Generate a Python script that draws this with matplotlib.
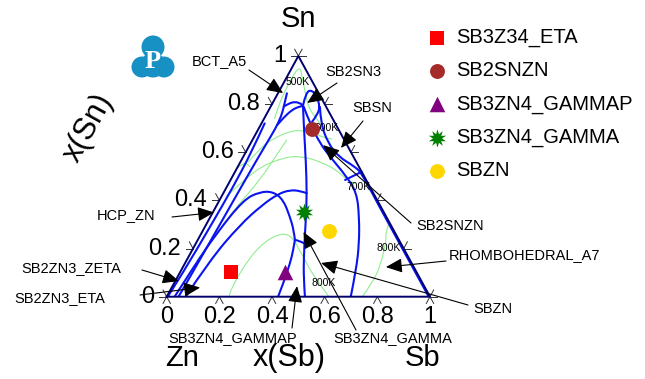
import numpy as np
import matplotlib
matplotlib.use("Agg")
import matplotlib.pyplot as plt
from matplotlib.path import Path
from matplotlib.patches import PathPatch, Circle

plt.rcParams['font.family'] = ['Liberation Sans', 'DejaVu Sans']

W, H = 645, 379

# univariant lines of the liquidus projection, as x(Sb), x(Sn)
line_a_sb = [0.004, 0.012, 0.02, 0.024, 0.022, 0.012]
line_a_sn = [0.0, 0.1, 0.3, 0.45, 0.6, 0.72]
line_b_sb = [0.045, 0.048, 0.052, 0.056, 0.06, 0.064, 0.06, 0.05, 0.034]
line_b_sn = [0.0, 0.1, 0.3, 0.5, 0.62, 0.7, 0.75, 0.79, 0.845]
lower_arc_sb = [0.063, 0.072, 0.088, 0.106, 0.118]
lower_arc_sn = [0.714, 0.745, 0.776, 0.789, 0.792]
dome1_sb = [0.05, 0.062, 0.083, 0.106, 0.12]
dome1_sn = [0.79, 0.803, 0.81, 0.803, 0.796]
pocket_sb = [0.12, 0.104, 0.122, 0.156, 0.188, 0.194, 0.189]
pocket_sn = [0.796, 0.85, 0.859, 0.83, 0.788, 0.755, 0.726]
central_sb = [0.12, 0.175, 0.252, 0.317, 0.363, 0.40, 0.438, 0.48, 0.525]
central_sn = [0.795, 0.693, 0.554, 0.43, 0.332, 0.249, 0.166, 0.08, 0.0]
right_sb = [0.125, 0.184, 0.264, 0.329, 0.434, 0.507, 0.565, 0.62, 0.664, 0.699]
right_sn = [0.79, 0.72, 0.637, 0.582, 0.499, 0.43, 0.332, 0.222, 0.111, 0.0]
near_edge_sb = [0.188, 0.225, 0.295, 0.361, 0.445, 0.485, 0.60, 0.75, 0.99]
near_edge_sn = [0.788, 0.72, 0.637, 0.582, 0.54, 0.512, 0.395, 0.245, 0.005]
tie_sb = [0.435, 0.481]
tie_sn = [0.485, 0.519]
dome2_sb = [0.03, 0.041, 0.058, 0.09, 0.136, 0.187, 0.242, 0.302, 0.344, 0.369]
dome2_sn = [0.0, 0.132, 0.263, 0.402, 0.436, 0.436, 0.402, 0.332, 0.277, 0.236]
link_sb = [0.369, 0.39, 0.41]
link_sn = [0.236, 0.232, 0.222]
gammap_sb = [0.369, 0.385, 0.399, 0.415, 0.423]
gammap_sn = [0.236, 0.19, 0.139, 0.056, 0.0]
dome3_sb = [0.072, 0.088, 0.129, 0.172, 0.21, 0.246, 0.286, 0.317]
dome3_sn = [0.0, 0.152, 0.298, 0.381, 0.427, 0.443, 0.44, 0.43]

# liquidus isotherms
iso_top_sb = [0.04, 0.025, 0.02, 0.025, 0.058, 0.104, 0.15, 0.2, 0.237]
iso_top_sn = [0.74, 0.8, 0.9, 0.96, 0.913, 0.845, 0.78, 0.74, 0.706]
iso_600_sb = [0.03, 0.046, 0.076, 0.135, 0.19, 0.24, 0.27, 0.30]
iso_600_sn = [0.56, 0.617, 0.658, 0.693, 0.686, 0.672, 0.66, 0.655]
iso_bump_sb = [0.0, 0.014, 0.03, 0.046]
iso_bump_sn = [0.535, 0.554, 0.553, 0.54]
iso_chan_sb = [0.04, 0.06, 0.079, 0.112, 0.125, 0.13]
iso_chan_sn = [0.15, 0.27, 0.374, 0.485, 0.609, 0.65]
iso_700_sb = [0.02, 0.038, 0.084, 0.165, 0.228, 0.302, 0.383, 0.442, 0.48]
iso_700_sn = [0.42, 0.457, 0.54, 0.582, 0.582, 0.561, 0.526, 0.485, 0.47]
iso_800a_sb = [0.237, 0.226, 0.233, 0.262, 0.31, 0.36, 0.40, 0.436, 0.48, 0.535, 0.616]
iso_800a_sn = [0.0, 0.03, 0.166, 0.236, 0.266, 0.243, 0.2, 0.166, 0.12, 0.069, 0.0]
iso_800b_sb = [0.69, 0.70, 0.717, 0.748, 0.752, 0.743]
iso_800b_sn = [0.31, 0.26, 0.236, 0.125, 0.06, 0.0]

iso_labels = ['500K', '600K', '700K', '800K', '800K']
iso_label_sb = [0.05, 0.257, 0.501, 0.742, 0.566]
iso_label_sn = [0.893, 0.702, 0.455, 0.201, 0.058]

# compound compositions
phase_names = ['SB3Z34_ETA', 'SB2SNZN', 'SB3ZN4_GAMMAP', 'SB3ZN4_GAMMA', 'SBZN']
phase_sb = [0.193, 0.202, 0.398, 0.347, 0.481]
phase_sn = [0.102, 0.697, 0.102, 0.352, 0.271]
phase_colors = ['#ff0000', '#a52a2a', '#800080', '#008000', '#ffd700']
phase_markers = ['s', 'o', '^', (10, 1, 0), 'o']
phase_sizes = [115, 115, 125, 170, 115]

# phase field labels and the composition their arrow points at
field_names = ['BCT_A5', 'SB2SN3', 'SBSN', 'SB2SNZN', 'HCP_ZN', 'SB2ZN3_ZETA',
               'SB2ZN3_ETA', 'RHOMBOHEDRAL_A7', 'SBZN', 'SB3ZN4_GAMMAP', 'SB3ZN4_GAMMA']
field_sb = [0.019, 0.131, 0.353, 0.279, 0.005, 0.014, 0.108, 0.771, 0.516, 0.473, 0.385]
field_sn = [0.846, 0.805, 0.618, 0.630, 0.35, 0.065, 0.038, 0.123, 0.14, 0.044, 0.269]

ticks = [0, 0.2, 0.4, 0.6, 0.8, 1]
tick_labels = ['0', '0.2', '0.4', '0.6', '0.8', '1']


def fp(px, py):
    return px / W, 1 - py / H


def to_xy(sb, sn):
    sb = np.asarray(sb, float)
    sn = np.asarray(sn, float)
    return sb + sn / 2, sn


def curve(ax, sb, sn, **kw):
    x, y = to_xy(sb, sn)
    pts = np.column_stack([x, y])
    verts, codes = [pts[0]], [Path.MOVETO]
    if len(pts) == 2:
        verts.append(pts[1])
        codes.append(Path.LINETO)
    for i in range(1, len(pts) - 1):
        end = pts[i + 1] if i == len(pts) - 2 else (pts[i] + pts[i + 1]) / 2
        verts += [pts[i], end]
        codes += [Path.CURVE3, Path.CURVE3]
    ax.add_patch(PathPatch(Path(verts, codes), fill=False, capstyle='round',
                           joinstyle='round', **kw))


fig = plt.figure(figsize=(W / 100, H / 100), dpi=100)
ax = fig.add_axes([166.7 / W, 1 - 296.7 / H, 263.3 / W, 240.7 / H])
ax.set_xlim(0, 1)
ax.set_ylim(0, 1)
ax.axis('off')

# isotherms
for sb, sn in [(iso_top_sb, iso_top_sn), (iso_600_sb, iso_600_sn),
               (iso_bump_sb, iso_bump_sn), (iso_chan_sb, iso_chan_sn),
               (iso_700_sb, iso_700_sn), (iso_800a_sb, iso_800a_sn),
               (iso_800b_sb, iso_800b_sn)]:
    curve(ax, sb, sn, edgecolor='#90ee90', lw=0.8, zorder=2)

# univariant lines
for sb, sn in [(line_a_sb, line_a_sn), (line_b_sb, line_b_sn),
               (lower_arc_sb, lower_arc_sn), (dome1_sb, dome1_sn),
               (pocket_sb, pocket_sn), (central_sb, central_sn),
               (right_sb, right_sn), (near_edge_sb, near_edge_sn),
               (tie_sb, tie_sn), (dome2_sb, dome2_sn), (link_sb, link_sn),
               (gammap_sb, gammap_sn), (dome3_sb, dome3_sn)]:
    curve(ax, sb, sn, edgecolor='#0a14f0', lw=1.5, zorder=3)

# triangle frame
fx, fy = to_xy([0, 1, 0, 0], [0, 0, 1, 0])
ax.plot(fx, fy, color='#000070', lw=1.4, zorder=4, clip_on=False)

# ternary ticks
L = 0.028
for t in ticks:
    x0, y0 = to_xy(t, 0)
    for dx, dy in [(-0.5, -1), (0.5, -1)]:
        ax.plot([x0, x0 + dx * L], [y0, y0 + dy * L], color='#333333', lw=0.7, clip_on=False)
    x0, y0 = to_xy(0, t)
    for dx, dy in [(-1, 0), (-0.5, 1)]:
        ax.plot([x0, x0 + dx * L], [y0, y0 + dy * L], color='#333333', lw=0.7, clip_on=False)
    x0, y0 = to_xy(1 - t, t)
    for dx, dy in [(1, 0), (0.5, 1)]:
        ax.plot([x0, x0 + dx * L], [y0, y0 + dy * L], color='#333333', lw=0.7, clip_on=False)

for t, lab in zip(ticks, tick_labels):
    x0, y0 = to_xy(t, 0)
    ax.text(x0, y0 - 0.085, lab, ha='center', va='center', fontsize=17)
    x0, y0 = to_xy(0, t)
    ax.text(x0 - 0.046, y0, lab, ha='right', va='center', fontsize=17)

# isotherm temperatures
for lab, sb, sn in zip(iso_labels, iso_label_sb, iso_label_sn):
    x0, y0 = to_xy(sb, sn)
    ax.text(x0, y0, lab, ha='center', va='center', fontsize=7.5, zorder=6)

# compounds
for name, sb, sn, c, m, sz in zip(phase_names, phase_sb, phase_sn, phase_colors,
                                  phase_markers, phase_sizes):
    x0, y0 = to_xy(sb, sn)
    ax.scatter([x0], [y0], s=sz, color=c, marker=m, lw=0, zorder=7, label=name, clip_on=False)

ax.legend(loc='upper left', bbox_to_anchor=fp(427, 28), bbox_transform=fig.transFigure,
          frameon=False, fontsize=14.5, handlelength=1.0, handletextpad=0.45,
          labelspacing=0.7, borderpad=0, borderaxespad=0, scatterpoints=1)

# phase field labels with arrows
text_pos = [(192, 61), (325, 72), (352, 108), (416, 226), (97, 215), (21, 268),
            (14, 298), (449, 255), (473, 309), (168, 338), (333, 338)]
arrow_start = [(249, 70), (337, 83), (363, 121), (411, 223), (172, 217), (142, 270),
               (140, 295), (446, 261), (468, 305), (292, 328), (356, 330)]
for name, sb, sn, tp, st in zip(field_names, field_sb, field_sn, text_pos, arrow_start):
    fig.text(*fp(*tp), name, ha='left', va='center', fontsize=10.5)
    ax.annotate('', xy=to_xy(sb, sn), xycoords='data', xytext=fp(*st),
                textcoords='figure fraction',
                arrowprops=dict(arrowstyle='-|>,head_length=0.5,head_width=0.22',
                                color='black', lw=0.8, mutation_scale=20,
                                shrinkA=0, shrinkB=0),
                zorder=8)

# component and axis titles
fig.text(*fp(298, 19), 'Sn', ha='center', va='center', fontsize=21)
fig.text(*fp(182, 358), 'Zn', ha='center', va='center', fontsize=21)
fig.text(*fp(289, 358), 'x(Sb)', ha='center', va='center', fontsize=22)
fig.text(*fp(422, 358), 'Sb', ha='center', va='center', fontsize=21)
fig.text(*fp(88, 128), 'x(Sn)', ha='center', va='center', fontsize=22, rotation=61)

# logo
lg = fig.add_axes([128 / W, 1 - 80 / H, 50 / W, 50 / H])
lg.set_xlim(128, 178)
lg.set_ylim(80, 30)
lg.axis('off')
for cx, cy, r in [(153, 47, 11.5), (153, 65, 12.5), (142, 67, 10.5), (164, 67, 10.5)]:
    lg.add_patch(Circle((cx, cy), r, color='#1790c4', lw=0))
lg.text(153, 62, 'P', color='white', ha='center', va='center', fontsize=19,
        fontweight='bold', family='Liberation Serif')

fig.savefig('out.png', dpi=100)
